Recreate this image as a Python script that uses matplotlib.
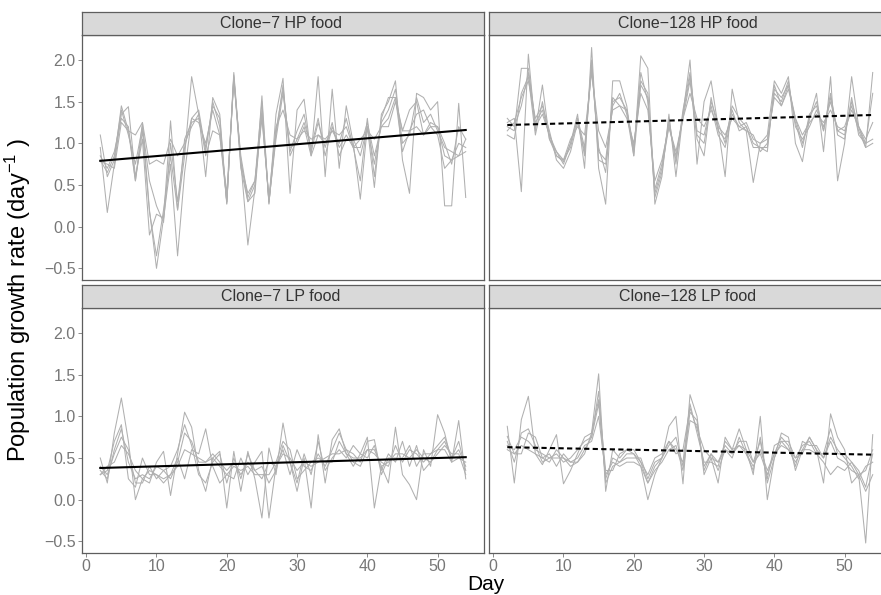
import matplotlib
matplotlib.use("Agg")
import matplotlib.pyplot as plt

plt.rcParams["font.family"] = ["Liberation Sans", "DejaVu Sans"]
plt.rcParams["mathtext.default"] = "regular"

days = list(range(2, 55))

titles = ["Clone\u22127 HP food", "Clone\u2212128 HP food",
          "Clone\u22127 LP food", "Clone\u2212128 LP food"]

# replicate growth rates, days 2..54
hp7 = [
    [1.10, 0.60, 0.80, 1.45, 1.15, 0.55, 1.25, 0.20, -0.50, 0.10,
     1.27, 0.20, 0.85, 1.80, 1.35, 0.60, 1.55, 1.35, 0.27, 1.85,
     0.78, -0.22, 0.45, 1.57, 0.27, 1.35, 1.78, 0.40, 1.40, 1.53,
     0.85, 1.80, 0.60, 1.65, 0.70, 1.45, 1.00, 0.33, 1.20, 0.47,
     1.35, 1.50, 1.75, 0.80, 0.40, 1.60, 1.55, 1.40, 1.50, 0.25,
     0.25, 1.48, 0.35],
    [0.95, 0.17, 0.75, 1.35, 1.44, 0.60, 1.05, -0.10, 0.15, 0.10,
     0.75, -0.35, 0.65, 1.30, 1.40, 0.90, 1.50, 1.20, 0.30, 1.80,
     0.70, 0.30, 0.40, 1.40, 0.30, 1.10, 1.70, 0.85, 1.05, 1.25,
     0.95, 1.30, 0.85, 1.20, 0.95, 1.10, 0.95, 0.55, 1.30, 0.60,
     1.30, 1.55, 1.55, 1.15, 1.40, 1.50, 1.10, 1.25, 1.20, 1.00,
     0.75, 1.20, 1.05],
    [0.85, 0.70, 0.90, 1.30, 1.20, 0.55, 1.15, 0.18, -0.35, 0.20,
     0.85, 0.20, 1.05, 1.25, 1.30, 0.95, 1.45, 1.30, 0.28, 1.82,
     0.75, 0.40, 0.55, 1.50, 0.28, 1.15, 1.65, 0.90, 1.15, 1.35,
     0.90, 1.25, 0.95, 1.25, 0.85, 1.05, 1.05, 0.85, 1.20, 0.75,
     1.25, 1.40, 1.65, 1.00, 1.10, 1.55, 1.25, 1.35, 1.15, 0.95,
     0.90, 0.85, 0.90],
    [0.80, 0.65, 0.85, 1.40, 1.10, 0.75, 1.20, 0.55, 0.25, 0.05,
     1.00, 0.30, 0.95, 1.30, 1.25, 1.00, 1.40, 1.10, 0.30, 1.78,
     0.80, 0.30, 0.50, 1.35, 0.30, 1.05, 1.60, 0.95, 1.00, 1.20,
     0.85, 1.10, 1.00, 1.15, 1.00, 1.30, 0.95, 0.95, 1.25, 0.85,
     1.20, 1.30, 1.55, 0.90, 1.15, 1.35, 1.40, 1.20, 1.10, 0.70,
     0.80, 1.00, 0.95],
    [0.78, 0.75, 0.70, 1.25, 1.15, 1.10, 1.25, 0.75, 0.80, 0.75,
     1.05, 0.85, 1.00, 1.20, 1.35, 0.85, 1.15, 1.10, 0.40, 1.75,
     0.85, 0.35, 0.55, 1.30, 0.35, 1.20, 1.40, 1.10, 1.05, 1.15,
     1.05, 1.10, 1.05, 1.15, 1.10, 1.20, 0.95, 1.05, 1.15, 1.05,
     1.20, 1.20, 1.50, 1.15, 1.15, 1.20, 1.10, 1.20, 1.20, 0.85,
     0.80, 0.85, 1.05],
]

hp128 = [
    [1.25, 1.30, 0.42, 2.07, 1.15, 1.70, 1.05, 0.90, 0.75, 1.00,
     1.35, 0.70, 2.15, 0.70, 0.27, 1.75, 1.75, 1.45, 0.85, 2.05,
     1.90, 0.27, 0.60, 1.35, 0.60, 1.35, 2.00, 0.75, 1.50, 1.75,
     1.20, 0.60, 1.65, 1.25, 1.15, 0.53, 1.00, 1.10, 1.75, 1.60,
     1.80, 1.00, 0.78, 1.30, 1.60, 0.90, 1.80, 0.55, 1.00, 1.80,
     1.20, 0.95, 1.85],
    [1.20, 1.15, 1.90, 1.90, 1.25, 1.40, 1.10, 0.85, 0.80, 0.95,
     1.30, 0.95, 1.90, 0.95, 0.65, 1.55, 1.45, 1.40, 0.90, 1.85,
     1.50, 0.40, 0.70, 1.20, 0.85, 1.30, 1.75, 1.05, 0.85, 1.55,
     1.15, 1.05, 1.40, 1.15, 1.20, 0.95, 0.95, 0.95, 1.65, 1.55,
     1.70, 1.25, 0.95, 1.35, 1.45, 1.15, 1.60, 1.10, 1.05, 1.55,
     1.10, 1.00, 1.60],
    [1.15, 1.25, 1.55, 1.75, 1.30, 1.45, 1.15, 0.80, 0.70, 0.90,
     1.25, 0.90, 2.00, 0.80, 0.75, 1.45, 1.60, 1.35, 0.85, 1.70,
     1.55, 0.45, 0.75, 1.25, 0.80, 1.35, 1.80, 1.15, 1.10, 1.45,
     1.10, 0.95, 1.35, 1.20, 1.15, 1.10, 0.90, 1.00, 1.60, 1.50,
     1.75, 1.20, 1.05, 1.20, 1.40, 1.20, 1.50, 1.15, 1.20, 1.45,
     1.15, 0.95, 1.00],
    [1.30, 1.20, 1.45, 1.85, 1.20, 1.35, 1.10, 0.90, 0.80, 1.05,
     1.20, 1.10, 1.85, 1.15, 0.95, 1.40, 1.45, 1.30, 1.00, 1.60,
     1.40, 0.55, 0.80, 1.20, 0.90, 1.30, 1.60, 1.30, 1.20, 1.40,
     1.20, 1.10, 1.30, 1.20, 1.25, 1.05, 1.00, 1.05, 1.55, 1.45,
     1.65, 1.30, 1.10, 1.25, 1.35, 1.25, 1.40, 1.20, 1.15, 1.40,
     1.20, 1.05, 1.25],
    [1.10, 1.05, 1.60, 1.80, 1.10, 1.50, 1.05, 0.85, 0.78, 1.00,
     1.30, 0.85, 1.95, 0.90, 0.80, 1.50, 1.55, 1.40, 0.95, 1.75,
     1.60, 0.35, 0.65, 1.30, 0.75, 1.40, 1.85, 1.10, 1.00, 1.50,
     1.25, 1.00, 1.45, 1.30, 1.20, 1.00, 0.95, 0.90, 1.70, 1.45,
     1.70, 1.30, 1.00, 1.30, 1.50, 1.15, 1.55, 1.15, 1.10, 1.50,
     1.20, 1.00, 1.05],
]

lp7 = [
    [0.50, 0.20, 0.80, 1.22, 0.70, 0.00, 0.25, 0.20, 0.45, 0.58,
     0.05, 0.55, 1.05, 0.87, 0.35, 0.10, 0.50, 0.58, -0.10, 0.58,
     0.10, 0.58, 0.25, -0.22, 0.62, 0.30, 0.92, 0.45, 0.10, 0.50,
     -0.10, 0.78, 0.20, 0.72, 0.85, 0.55, 0.40, 0.55, 0.75, -0.10,
     0.40, 0.20, 0.87, 0.30, 0.18, 0.00, 0.60, 0.40, 1.02, 0.80,
     0.45, 0.95, 0.25],
    [0.30, 0.35, 0.70, 0.90, 0.25, 0.15, 0.50, 0.30, 0.30, 0.20,
     0.30, 0.50, 0.25, 0.60, 0.55, 0.85, 0.40, 0.20, 0.30, 0.25,
     0.50, 0.30, 0.45, 0.58, -0.22, 0.40, 0.60, 0.30, 0.60, 0.40,
     0.35, 0.55, 0.40, 0.60, 0.80, 0.60, 0.55, 0.45, 0.70, 0.72,
     0.30, 0.50, 0.50, 0.50, 0.65, 0.40, 0.55, 0.55, 0.60, 0.70,
     0.50, 0.60, 0.40],
    [0.35, 0.25, 0.60, 0.85, 0.45, 0.25, 0.30, 0.25, 0.40, 0.35,
     0.25, 0.45, 0.80, 0.70, 0.45, 0.45, 0.50, 0.40, 0.30, 0.40,
     0.35, 0.40, 0.30, 0.30, 0.30, 0.45, 0.70, 0.60, 0.25, 0.35,
     0.45, 0.50, 0.45, 0.45, 0.70, 0.55, 0.50, 0.50, 0.60, 0.55,
     0.45, 0.40, 0.65, 0.45, 0.60, 0.55, 0.45, 0.55, 0.65, 0.75,
     0.50, 0.70, 0.35],
    [0.40, 0.30, 0.55, 0.75, 0.60, 0.20, 0.20, 0.40, 0.25, 0.35,
     0.40, 0.60, 0.90, 0.65, 0.30, 0.20, 0.45, 0.55, 0.20, 0.50,
     0.25, 0.55, 0.35, 0.40, 0.20, 0.35, 0.65, 0.45, 0.20, 0.55,
     0.30, 0.70, 0.35, 0.50, 0.60, 0.50, 0.65, 0.55, 0.50, 0.65,
     0.35, 0.55, 0.45, 0.70, 0.40, 0.65, 0.35, 0.45, 0.55, 0.65,
     0.55, 0.55, 0.30],
    [0.30, 0.40, 0.45, 0.65, 0.55, 0.35, 0.25, 0.35, 0.30, 0.25,
     0.30, 0.40, 0.60, 0.55, 0.50, 0.45, 0.55, 0.45, 0.35, 0.45,
     0.30, 0.45, 0.35, 0.25, 0.45, 0.40, 0.55, 0.50, 0.35, 0.45,
     0.40, 0.45, 0.50, 0.55, 0.55, 0.60, 0.45, 0.40, 0.60, 0.60,
     0.40, 0.45, 0.55, 0.55, 0.50, 0.60, 0.50, 0.45, 0.60, 0.60,
     0.45, 0.50, 0.45],
]

lp128 = [
    [0.88, 0.20, 0.96, 1.24, 0.55, 0.42, 0.60, 0.78, 0.19, 0.35,
     0.55, 0.75, 0.80, 1.51, 0.10, 0.60, 0.50, 0.60, 0.55, 0.40,
     0.00, 0.30, 0.50, 0.88, 1.00, 0.19, 1.26, 1.00, 0.30, 0.50,
     0.20, 0.75, 0.60, 0.85, 0.60, 0.30, 1.00, 0.00, 0.50, 0.80,
     0.75, 0.35, 0.60, 0.75, 0.60, 0.20, 1.03, 0.75, 0.60, 0.20,
     0.30, -0.52, 0.78],
    [0.76, 0.55, 0.55, 0.80, 0.75, 0.50, 0.55, 0.40, 0.55, 0.45,
     0.45, 0.55, 0.80, 1.20, 0.35, 0.35, 0.55, 0.60, 0.60, 0.45,
     0.30, 0.50, 0.55, 0.70, 0.55, 0.60, 1.10, 0.85, 0.60, 0.50,
     0.45, 0.65, 0.55, 0.70, 0.70, 0.45, 0.70, 0.25, 0.65, 0.70,
     0.60, 0.50, 0.65, 0.70, 0.55, 0.55, 0.85, 0.55, 0.55, 0.45,
     0.35, 0.15, 0.55],
    [0.65, 0.60, 0.75, 0.70, 0.60, 0.55, 0.50, 0.55, 0.45, 0.50,
     0.60, 0.70, 0.75, 1.15, 0.25, 0.50, 0.45, 0.50, 0.50, 0.50,
     0.25, 0.45, 0.50, 0.65, 0.75, 0.40, 1.05, 0.95, 0.35, 0.55,
     0.35, 0.60, 0.50, 0.75, 0.55, 0.40, 0.60, 0.35, 0.55, 0.75,
     0.65, 0.40, 0.70, 0.65, 0.65, 0.50, 0.75, 0.60, 0.50, 0.40,
     0.25, 0.40, 0.45],
    [0.60, 0.55, 0.65, 0.60, 0.55, 0.50, 0.45, 0.60, 0.50, 0.45,
     0.50, 0.65, 0.70, 1.00, 0.30, 0.45, 0.40, 0.45, 0.45, 0.40,
     0.20, 0.35, 0.45, 0.60, 0.65, 0.35, 0.95, 0.90, 0.40, 0.55,
     0.45, 0.60, 0.55, 0.65, 0.60, 0.45, 0.55, 0.30, 0.55, 0.65,
     0.60, 0.45, 0.60, 0.60, 0.55, 0.45, 0.30, 0.40, 0.35, 0.45,
     0.30, 0.35, 0.60],
    [0.70, 0.45, 0.80, 0.85, 0.65, 0.45, 0.50, 0.50, 0.50, 0.40,
     0.45, 0.60, 0.75, 1.30, 0.20, 0.40, 0.45, 0.55, 0.55, 0.45,
     0.20, 0.40, 0.50, 0.70, 0.60, 0.45, 1.15, 0.80, 0.45, 0.45,
     0.40, 0.70, 0.60, 0.65, 0.55, 0.35, 0.75, 0.20, 0.50, 0.70,
     0.70, 0.50, 0.55, 0.75, 0.60, 0.50, 0.70, 0.50, 0.45, 0.35,
     0.30, 0.10, 0.30],
]

# fitted trend, value at day 2 and day 54
trend_start = [0.79, 1.22, 0.38, 0.63]
trend_end = [1.16, 1.34, 0.51, 0.54]
trend_dashed = [False, True, False, True]

panels = [hp7, hp128, lp7, lp128]

W, H = 881, 595
fig = plt.figure(figsize=(W / 100, H / 100), dpi=100)

# pixel boxes of the plot areas (left, top, right, bottom); right column runs off the canvas
boxes = [(82, 35, 484, 280), (489, 35, 891, 280),
         (82, 308, 484, 553), (489, 308, 891, 553)]
strip_h = 23
BORDER = "#5e5e5e"
TICKC = "#777777"

for i, (reps, (l, t, r, b)) in enumerate(zip(panels, boxes)):
    ax = fig.add_axes([l / W, 1 - b / H, (r - l) / W, (b - t) / H])
    for y in reps:
        ax.plot(days, y, color="#b0b0b0", lw=0.75, zorder=2)
    ax.plot([days[0], days[-1]], [trend_start[i], trend_end[i]], color="black",
            lw=1.5, ls=(0, (2.5, 1.6)) if trend_dashed[i] else "-", zorder=3)
    ax.set_xlim(-0.6, 56.6)
    ax.set_ylim(-0.64, 2.30)
    ax.set_xticks([0, 10, 20, 30, 40, 50])
    ax.set_yticks([-0.5, 0.0, 0.5, 1.0, 1.5, 2.0])
    ax.set_yticklabels(["\u22120.5", "0.0", "0.5", "1.0", "1.5", "2.0"])
    ax.tick_params(colors=TICKC, labelcolor=TICKC, labelsize=11.5, length=3, width=0.6, pad=1.5)
    if i % 2 == 1:
        ax.tick_params(axis="y", left=False, labelleft=False)
    if i < 2:
        ax.tick_params(axis="x", bottom=False, labelbottom=False)
    for s in ax.spines.values():
        s.set_color(BORDER)
        s.set_linewidth(0.9)

    sax = fig.add_axes([l / W, 1 - t / H, (r - l) / W, strip_h / H])
    sax.set_facecolor("#d9d9d9")
    sax.set_xticks([])
    sax.set_yticks([])
    for s in sax.spines.values():
        s.set_color(BORDER)
        s.set_linewidth(0.9)
    sax.text(0.495, 0.48, titles[i], transform=sax.transAxes, ha="center", va="center",
             fontsize=11.5, color="#333333")

fig.text(486 / W, 1 - 585 / H, "Day", ha="center", va="center", fontsize=15, color="black")
fig.text(18 / W, 1 - 300 / H, "Population growth rate (day$^{\u22121}$ )", rotation=90,
         ha="center", va="center", fontsize=17, color="black")

fig.savefig("out.png", dpi=100)
